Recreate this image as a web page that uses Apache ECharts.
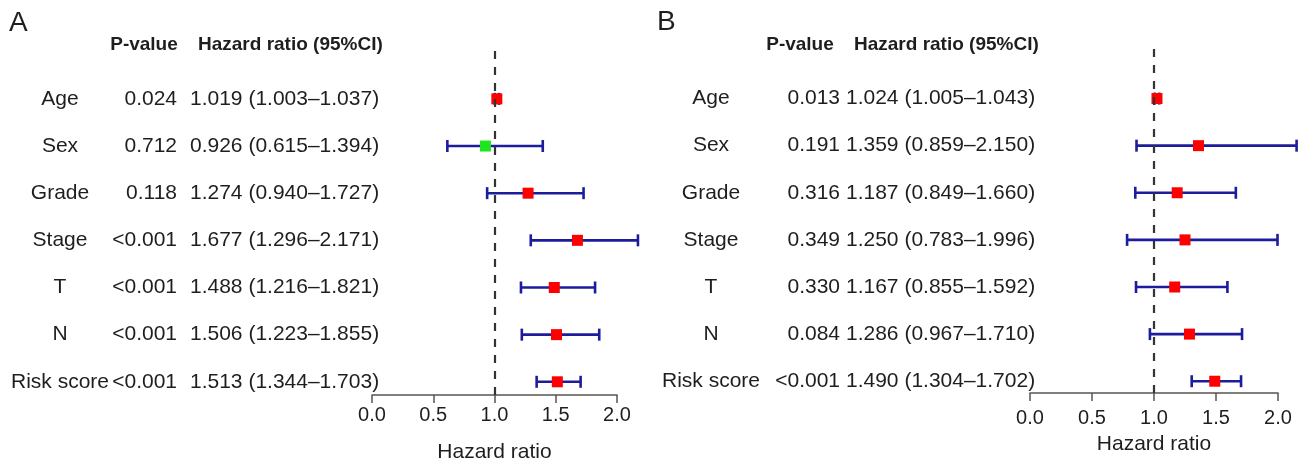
<!DOCTYPE html>
<html>
<head>
<meta charset="utf-8">
<script src="https://cdn.jsdelivr.net/npm/echarts@6/dist/echarts.min.js"></script>
<style>
html,body{margin:0;padding:0;background:#fff;}
#main{width:1302px;height:462px;}
</style>
</head>
<body>
<div id="main"></div>
<script>
// 变量名称 (上到下)
var rowNames = ['Age', 'Sex', 'Grade', 'Stage', 'T', 'N', 'Risk score'];
// A 面板
var pA = ['0.024', '0.712', '0.118', '<0.001', '<0.001', '<0.001', '<0.001'];
var hrA = [1.019, 0.926, 1.274, 1.677, 1.488, 1.506, 1.513];
var lowA = [1.003, 0.615, 0.940, 1.296, 1.216, 1.223, 1.344];
var upA = [1.037, 1.394, 1.727, 2.171, 1.821, 1.855, 1.703];
// B 面板
var pB = ['0.013', '0.191', '0.316', '0.349', '0.330', '0.084', '<0.001'];
var hrB = [1.024, 1.359, 1.187, 1.250, 1.167, 1.286, 1.490];
var lowB = [1.005, 0.859, 0.849, 0.783, 0.855, 0.967, 1.304];
var upB = [1.043, 2.150, 1.660, 1.996, 1.592, 1.710, 1.702];

var FONT = '"Liberation Sans", Arial, Helvetica, sans-serif';
var TXT = '#1e1e1e';

function buildBars(hr, low, up){
	var arr = [];
	for(var i = 0; i < hr.length; i++){
		arr.push([hr[i], low[i], up[i], rowNames.length - i]);
	}
	return arr;
}
function buildRows(){
	var arr = [];
	for(var i = 0; i < rowNames.length; i++){
		arr.push([0, rowNames.length - i]);
	}
	return arr;
}

// 误差线 + 方块
function forestItem(params, api){
	var y = api.value(3);
	var pm = api.coord([api.value(0), y]);
	var pl = api.coord([api.value(1), y]);
	var pu = api.coord([api.value(2), y]);
	var col = api.value(0) < 1 ? '#1ee61e' : '#ff0000';
	var ls = {stroke: '#1c1c9c', lineWidth: 2.6};
	return {
		type: 'group',
		children: [
			{type: 'line', shape: {x1: pl[0], y1: pl[1], x2: pu[0], y2: pu[1]}, style: ls},
			{type: 'line', shape: {x1: pl[0], y1: pl[1] - 6, x2: pl[0], y2: pl[1] + 6}, style: ls},
			{type: 'line', shape: {x1: pu[0], y1: pu[1] - 6, x2: pu[0], y2: pu[1] + 6}, style: ls},
			{type: 'rect', shape: {x: pm[0] - 5.5, y: pm[1] - 5.5, width: 11, height: 11}, style: {fill: col}}
		]
	};
}

// 表格文字
function tableItem(xLabel, xP, xHr, p, hr, low, up){
	return function(params, api){
		var i = params.dataIndex;
		var pt = api.coord([0, api.value(1)]);
		var st = {font: '21px ' + FONT, fill: TXT, verticalAlign: 'middle'};
		var hrTxt = hr[i].toFixed(3) + ' (' + low[i].toFixed(3) + '–' + up[i].toFixed(3) + ')';
		return {
			type: 'group',
			children: [
				{type: 'text', x: xLabel, y: pt[1], style: Object.assign({}, st, {text: rowNames[i], align: 'center'})},
				{type: 'text', x: xP, y: pt[1], style: Object.assign({}, st, {text: p[i], align: 'right'})},
				{type: 'text', x: xHr, y: pt[1], style: Object.assign({}, st, {text: hrTxt, align: 'left'})}
			]
		};
	};
}

function xAx(idx, margin, gap){
	return {
		gridIndex: idx, type: 'value', min: 0, max: 2, interval: 0.5,
		name: 'Hazard ratio', nameLocation: 'middle', nameGap: gap,
		nameTextStyle: {fontSize: 21, color: TXT, fontFamily: FONT},
		axisLine: {show: true, onZero: false, lineStyle: {color: '#555', width: 1.5}},
		axisTick: {show: true, length: 8, lineStyle: {color: '#555', width: 1.5}},
		axisLabel: {fontSize: 20, color: TXT, fontFamily: FONT, margin: margin,
			formatter: function(v){ return v.toFixed(1); }},
		splitLine: {show: false}
	};
}
function yAx(idx, mn, mx){
	return {gridIndex: idx, type: 'value', min: mn, max: mx, show: false, splitLine: {show: false}};
}
function refLine(){
	return {
		silent: true, symbol: ['none', 'none'], label: {show: false},
		lineStyle: {color: '#333', width: 2.2, type: [8, 8]},
		data: [{xAxis: 1}]
	};
}

var chart = echarts.init(document.getElementById('main'));
var option = {
	animation: false,
	backgroundColor: '#fff',
	grid: [
		{left: 372, width: 245, top: 47, bottom: 67, outerBoundsMode: 'none', containLabel: false},
		{left: 1030, width: 248, top: 42, bottom: 69, outerBoundsMode: 'none', containLabel: false}
	],
	xAxis: [xAx(0, 10, 47), xAx(1, 15, 41)],
	yAxis: [yAx(0, 0.72, 8.1), yAx(1, 0.75, 8.2)],
	series: [
		{type: 'custom', xAxisIndex: 0, yAxisIndex: 0, clip: false, renderItem: forestItem,
			encode: {x: [0, 1, 2], y: 3}, data: buildBars(hrA, lowA, upA), z: 3,
			markLine: refLine()},
		{type: 'custom', xAxisIndex: 0, yAxisIndex: 0, clip: false,
			renderItem: tableItem(60, 177, 190, pA, hrA, lowA, upA), encode: {x: 0, y: 1},
			data: buildRows()},
		{type: 'custom', xAxisIndex: 1, yAxisIndex: 1, clip: false, renderItem: forestItem,
			encode: {x: [0, 1, 2], y: 3}, data: buildBars(hrB, lowB, upB), z: 3,
			markLine: refLine()},
		{type: 'custom', xAxisIndex: 1, yAxisIndex: 1, clip: false,
			renderItem: tableItem(711, 840, 846, pB, hrB, lowB, upB), encode: {x: 0, y: 1},
			data: buildRows()}
	],
	graphic: [
		{type: 'text', left: 9, top: 9, style: {text: 'A', font: '28px ' + FONT, fill: TXT}},
		{type: 'text', left: 657, top: 8, style: {text: 'B', font: '28px ' + FONT, fill: TXT}},
		{type: 'text', x: 144, y: 45, style: {text: 'P-value', font: 'bold 19px ' + FONT, fill: TXT, align: 'center', verticalAlign: 'middle'}},
		{type: 'text', x: 198, y: 45, style: {text: 'Hazard ratio (95%CI)', font: 'bold 19px ' + FONT, fill: TXT, align: 'left', verticalAlign: 'middle'}},
		{type: 'text', x: 800, y: 45, style: {text: 'P-value', font: 'bold 19px ' + FONT, fill: TXT, align: 'center', verticalAlign: 'middle'}},
		{type: 'text', x: 854, y: 45, style: {text: 'Hazard ratio (95%CI)', font: 'bold 19px ' + FONT, fill: TXT, align: 'left', verticalAlign: 'middle'}}
	]
};
chart.setOption(option);
</script>
</body>
</html>
